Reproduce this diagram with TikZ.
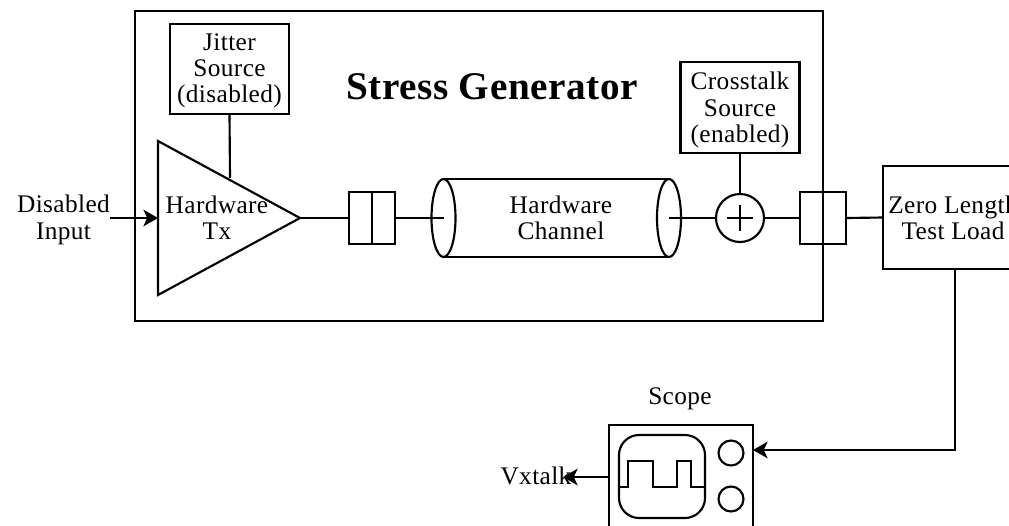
\documentclass[tikz,border=0pt]{standalone}
\usepackage{fontspec}
\setmainfont[LetterSpace=1.5]{Liberation Serif}
\usetikzlibrary{arrows.meta,shapes.geometric}

\begin{document}
\begin{tikzpicture}[
    x=0.75pt,y=-0.75pt,
    every node/.style={outer sep=0pt,inner sep=0pt,align=center,font=\fontsize{19}{19.7}\selectfont},
    ln/.style={line width=1.6pt},
    box/.style={rectangle,draw,ln},
    conn/.style={box,minimum width=17.25pt,minimum height=39pt},
    endcap/.style={ellipse,draw,ln,minimum width=18pt,minimum height=58.5pt},
    knob/.style={circle,draw,ln,minimum size=18.75pt},
    arr/.style={-{Stealth[length=11pt,width=12.5pt,inset=3pt]},ln},
]
\useasboundingbox (0,0) rectangle (1009,525);
\clip (0,0) rectangle (1009,525);

\node[box,minimum width=516pt,minimum height=232.5pt] (stress) at (479,166) {};
\node[font=\fontsize{29.4}{32}\selectfont\bfseries] (title) at (492,87) {Stress Generator};
\node[box,minimum width=89.25pt,minimum height=67.5pt] (jitter) at (229.5,69) {};
\node (jitterlabel) at (229.5,71) {Jitter\\Source\\(disabled)};
\node[isosceles triangle,isosceles triangle stretches,draw,ln,minimum width=115.5pt,minimum height=106.5pt,anchor=lower side] (tx) at (158,218) {};
\node (txlabel) at (217,218) {Hardware\\Tx};
\node (input) at (63.5,220) {Disabled\\Input};
\coordinate (txtop) at (230,178);

\node[conn] (conaa) at (360.5,218) {};
\node[conn] (conab) at (383.5,218) {};
\node[endcap] (chl) at (443.5,218) {};
\node[endcap] (chr) at (669,218) {};
\node (chlabel) at (561,218) {Hardware\\Channel};
\node[circle,draw,ln,minimum size=36pt] (sum) at (740,218) {};
\node[box,minimum width=89.25pt,minimum height=68.25pt] (xtalk) at (740,107.5) {};
\node (xtalklabel) at (740,110) {Crosstalk\\Source\\(enabled)};
\node[conn] (conba) at (811.5,218) {};
\node[conn] (conbb) at (834.5,218) {};
\node[box,minimum width=108pt,minimum height=77.25pt] (zero) at (955,217.5) {};
\node (zerolabel) at (953,218) {Zero Length\\Test Load};

\node (scopelabel) at (680,399) {Scope};
\node[box,minimum width=108pt,minimum height=112.5pt] (scope) at (681,500) {};
\node[box,rounded corners=15pt,minimum width=64.5pt,minimum height=62.25pt] (screen) at (662,476.5) {};
\node[knob] (knoba) at (731,453) {};
\node[knob] (knobb) at (731,499) {};
\node (vx) at (536,475.5) {Vxtalk};
\coordinate (vxtip) at (563,477);
\coordinate (scopeout) at (609,477);
\coordinate (scopein) at (753,450);

\draw[ln] (jitter.south) -- (txtop);
\draw[arr] (input.east |- tx.lower side) -- (tx.lower side);
\draw[ln] (tx.apex) -- (conaa.west);
\draw[ln] (conab.east) -- (chl.west);
\draw[ln] (chl.west) -- (chl.center);
\draw[ln] (chl.north) -- (chr.north);
\draw[ln] (chl.south) -- (chr.south);
\draw[ln] (chr.center) -- (sum.west);
\draw[ln] (sum.east) -- (conba.west);
\draw[ln] (conbb.east) -- (zero.west);
\draw[ln] (xtalk.south) -- (sum.north);
\draw[ln] (sum.center) ++(-13,0) -- ++(26,0);
\draw[ln] (sum.center) ++(0,-13) -- ++(0,26);
\draw[ln] (619,487) -- (628,487) -- (628,461) -- (653,461) -- (653,487) -- (677,487) -- (677,461) -- (691,461) -- (691,487) -- (705,487);
\draw[arr] (zero.south) |- (scopein);
\draw[arr] (scopeout) -- (vxtip);
\end{tikzpicture}
\end{document}
